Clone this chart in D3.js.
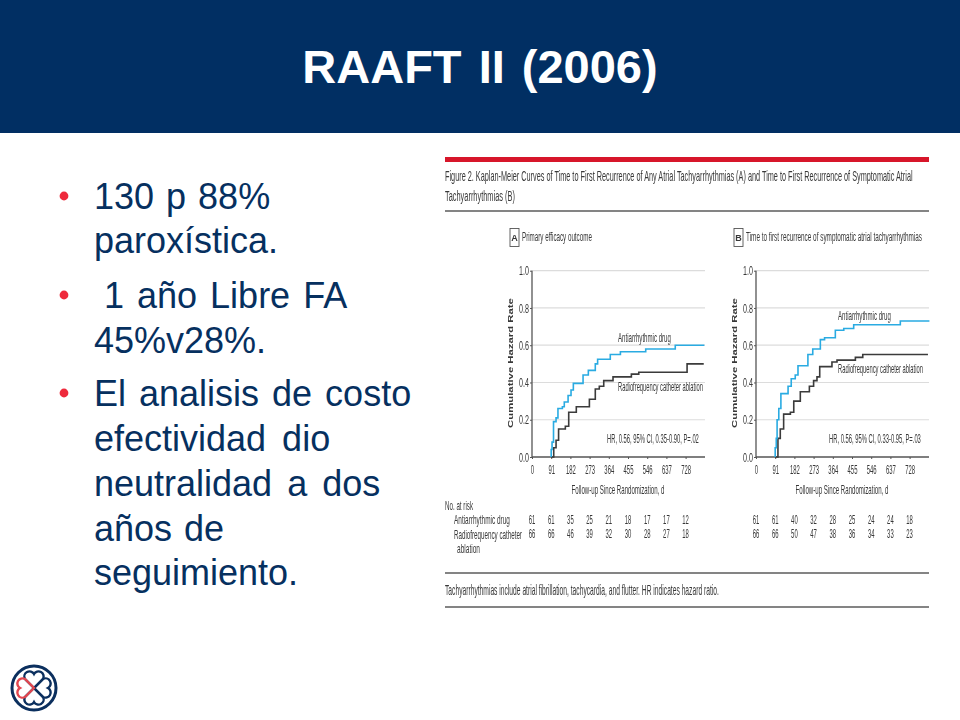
<!DOCTYPE html>
<html>
<head>
<meta charset="utf-8">
<script src="https://cdn.jsdelivr.net/npm/d3@7"></script>
<style>
    html, body { margin: 0; padding: 0; background: #fff; }
    svg { display: block; }
    .narrow { font-family: "Liberation Sans", sans-serif; fill: #383838; }
    .axis-line { stroke: #555; stroke-width: 1.3; fill: none; }
    .grid-line { stroke: #dcdcdc; stroke-width: 1.2; }
    .rule { stroke: #5c5c5c; stroke-width: 1.4; }
</style>
</head>
<body>
<svg id="slide" width="960" height="720"></svg>
<script>
// Slide text
const titleText = "RAAFT II (2006)";
const bulletLines = [
    { text: "130 p 88%", bullet: true, gap: 2 },
    { text: "paroxística." },
    { text: "1 año Libre FA", bullet: true, indent: true, gap: 3 },
    { text: "45%v28%." },
    { text: "El analisis de costo", bullet: true, gap: 3 },
    { text: "efectividad dio", gap: 6 },
    { text: "neutralidad a dos", gap: 5 },
    { text: "años de", gap: 2 },
    { text: "seguimiento." }
];

// Axis values
const xTicks = [0, 91, 182, 273, 364, 455, 546, 637, 728];
const yTicks = [0, 0.2, 0.4, 0.6, 0.8, 1.0];

// Panel A curves as [day, cumulative hazard]
const drugA = [[91, 0], [91, 0.04], [95, 0.08], [102, 0.19], [114, 0.21], [123, 0.26], [144, 0.27], [153, 0.295],
    [171, 0.33], [185, 0.36], [196, 0.395], [242, 0.44], [267, 0.465], [300, 0.5], [311, 0.525], [371, 0.55],
    [419, 0.565], [539, 0.58], [679, 0.6], [817, 0.6]];
const ablationA = [[91, 0], [103, 0.05], [114, 0.09], [126, 0.15], [158, 0.165], [174, 0.24], [210, 0.27],
    [272, 0.31], [300, 0.365], [319, 0.38], [340, 0.41], [384, 0.43], [471, 0.445], [506, 0.455], [735, 0.5], [814, 0.5]];

// Panel B curves
const drugB = [[91, 0], [91, 0.05], [96, 0.1], [100, 0.2], [108, 0.26], [118, 0.34], [152, 0.38], [167, 0.42], [186, 0.44],
    [199, 0.49], [246, 0.55], [269, 0.58], [305, 0.63], [325, 0.64], [376, 0.68], [416, 0.69], [463, 0.71],
    [684, 0.73], [822, 0.73]];
const ablationB = [[91, 0], [104, 0.1], [115, 0.15], [131, 0.23], [163, 0.24], [179, 0.3], [210, 0.35], [253, 0.38],
    [273, 0.41], [289, 0.43], [302, 0.485], [360, 0.51], [384, 0.52], [471, 0.535], [506, 0.55], [815, 0.55]];

// Numbers at risk
const riskDrugA = [61, 61, 35, 25, 21, 18, 17, 17, 12];
const riskAblationA = [66, 66, 46, 39, 32, 30, 28, 27, 18];
const riskDrugB = [61, 61, 40, 32, 28, 25, 24, 24, 18];
const riskAblationB = [66, 66, 50, 47, 38, 36, 34, 33, 23];

const svg = d3.select("#slide");

// Squeeze a text horizontally to a measured width, about its own x
function squeeze(node, width) {
    const sx = width / node.getComputedTextLength();
    const px = +node.getAttribute("x") || 0;
    node.setAttribute("transform", `translate(${px},0) scale(${sx},1) translate(${-px},0)`);
}

function narrowText(parent, x, y, str, size, width, anchor) {
    const t = parent.append("text")
        .attr("class", "narrow")
        .attr("x", x)
        .attr("y", y)
        .attr("font-size", size)
        .attr("text-anchor", anchor || "start")
        .text(str);
    if (width) {
        squeeze(t.node(), width);
    }
    return t;
}

function drawHeader() {
    svg.append("rect").attr("width", 960).attr("height", 133).attr("fill", "#012f63");
    svg.append("text")
        .attr("x", 480)
        .attr("y", 83)
        .attr("text-anchor", "middle")
        .attr("font-family", "'Liberation Sans', Arial, sans-serif")
        .attr("font-weight", "bold")
        .attr("font-size", 47)
        .attr("word-spacing", 4)
        .attr("fill", "#fff")
        .text(titleText);
}

function drawBullets() {
    const baselines = [209, 253, 308, 353, 406, 451, 496, 541, 585];
    const g = svg.append("g")
        .attr("font-family", "'Liberation Sans', Arial, sans-serif")
        .attr("font-size", 36)
        .attr("fill", "#06305f");

    bulletLines.forEach((line, i) => {
        g.append("text")
            .attr("x", line.indent ? 104 : 94)
            .attr("y", baselines[i])
            .attr("word-spacing", line.gap || 0)
            .text(line.text);
        if (line.bullet) {
            g.append("circle")
                .attr("cx", 64)
                .attr("cy", baselines[i] - 13)
                .attr("r", 4.4)
                .attr("fill", "#ee2a3c");
        }
    });
}

function drawPanel(fig, opts) {
    const x = d3.scaleLinear().domain([0, 728]).range([opts.x0, opts.x0 + 153.6]);
    const y = d3.scaleLinear().domain([0, 1]).range([457, 270.7]);
    const xEnd = opts.x0 + 173;
    const g = fig.append("g");

    // Horizontal grid
    g.selectAll(".grid-line")
        .data(yTicks.filter(d => d > 0))
        .enter().append("line")
        .attr("class", "grid-line")
        .attr("x1", x(0))
        .attr("x2", xEnd)
        .attr("y1", d => y(d))
        .attr("y2", d => y(d));

    // Axes
    const yAxis = g.append("g")
        .attr("transform", `translate(${x(0)},0)`)
        .call(d3.axisLeft(y).tickValues(yTicks).tickFormat(d3.format(".1f")).tickSize(2).tickPadding(1));
    const xAxis = g.append("g")
        .attr("transform", "translate(0,457)")
        .call(d3.axisBottom(x).tickValues(xTicks).tickFormat(d3.format("d")).tickSize(2).tickPadding(6));
    [yAxis, xAxis].forEach(a => {
        a.select(".domain").remove();
        a.selectAll("line").attr("stroke", "#555");
        a.selectAll("text")
            .attr("class", "narrow")
            .attr("font-size", 13)
            .each(function() { squeeze(this, this.textContent.length * 3.3); });
    });
    g.append("line").attr("class", "axis-line")
        .attr("x1", x(0)).attr("x2", x(0)).attr("y1", y(1)).attr("y2", y(0));
    g.append("line").attr("class", "axis-line")
        .attr("x1", x(0)).attr("x2", xEnd).attr("y1", y(0)).attr("y2", y(0));

    // Curves
    const line = d3.line().x(d => x(d[0])).y(d => y(d[1])).curve(d3.curveStepAfter);
    g.append("path").datum(opts.ablation)
        .attr("d", line).attr("fill", "none").attr("stroke", "#3a3a3a").attr("stroke-width", 1.6);
    g.append("path").datum(opts.drug)
        .attr("d", line).attr("fill", "none").attr("stroke", "#29abe2").attr("stroke-width", 1.6);

    // Y title
    const yTitle = g.append("text")
        .attr("class", "narrow")
        .attr("text-anchor", "middle")
        .attr("font-weight", "bold")
        .attr("font-size", 8)
        .text("Cumulative Hazard Rate");
    const yScale = 130 / yTitle.node().getComputedTextLength();
    yTitle.attr("transform", `translate(${opts.x0 - 19},363) rotate(-90) scale(${yScale},1)`);

    narrowText(g, opts.x0 + 86, 494, "Follow-up Since Randomization, d", 13, 93, "middle");
    narrowText(g, opts.drugLabel[0], opts.drugLabel[1], "Antiarrhythmic drug", 13, 53);
    narrowText(g, opts.ablationLabel[0], opts.ablationLabel[1], "Radiofrequency catheter ablation", 13, 85);
    narrowText(g, opts.hrLabel[0], opts.hrLabel[1], opts.hr, 13, 92);

    // Panel key
    g.append("rect")
        .attr("x", opts.x0 - 22).attr("y", 228.5)
        .attr("width", 9).attr("height", 18)
        .attr("fill", "#fff").attr("stroke", "#555").attr("stroke-width", 0.9);
    narrowText(g, opts.x0 - 17.5, 241, opts.key, 9, null, "middle").attr("font-weight", "bold");
    narrowText(g, opts.x0 - 10, 241, opts.subtitle, 12, opts.subtitleWidth);

    // Numbers at risk
    [[opts.riskDrug, 524], [opts.riskAblation, 538]].forEach(([row, rowY]) => {
        g.selectAll(null)
            .data(row)
            .enter().append("text")
            .attr("class", "narrow")
            .attr("x", (d, i) => x(xTicks[i]))
            .attr("y", rowY)
            .attr("text-anchor", "middle")
            .attr("font-size", 13)
            .text(d => d)
            .each(function() { squeeze(this, 6.6); });
    });
}

function drawFigure() {
    // Soft filter, the reference figure is a scaled-up bitmap
    svg.append("defs").append("filter")
        .attr("id", "soft")
        .append("feGaussianBlur")
        .attr("stdDeviation", 0.35);
    const fig = svg.append("g").attr("filter", "url(#soft)");

    fig.append("rect").attr("x", 445).attr("y", 157).attr("width", 484).attr("height", 5).attr("fill", "#d7182a");
    narrowText(fig, 445, 181, "Figure 2. Kaplan-Meier Curves of Time to First Recurrence of Any Atrial Tachyarrhythmias (A) and Time to First Recurrence of Symptomatic Atrial", 14, 468);
    narrowText(fig, 445, 201, "Tachyarrhythmias (B)", 14, 70);
    fig.append("line").attr("class", "rule").attr("x1", 445).attr("x2", 929).attr("y1", 211).attr("y2", 211);

    drawPanel(fig, {
        x0: 532, key: "A", subtitle: "Primary efficacy outcome", subtitleWidth: 70,
        drug: drugA, ablation: ablationA, riskDrug: riskDrugA, riskAblation: riskAblationA,
        hr: "HR, 0.56, 95% CI, 0.35-0.90, P=.02",
        drugLabel: [618, 342], ablationLabel: [618, 391], hrLabel: [607, 443]
    });
    drawPanel(fig, {
        x0: 756, key: "B", subtitle: "Time to first recurrence of symptomatic atrial tachyarrhythmias", subtitleWidth: 176,
        drug: drugB, ablation: ablationB, riskDrug: riskDrugB, riskAblation: riskAblationB,
        hr: "HR, 0.56, 95% CI, 0.33-0.95, P=.03",
        drugLabel: [838, 320], ablationLabel: [838, 373], hrLabel: [829, 443]
    });

    narrowText(fig, 445, 510, "No. at risk", 13, 28);
    narrowText(fig, 454, 524, "Antiarrhythmic drug", 13, 56);
    narrowText(fig, 454, 539, "Radiofrequency catheter", 13, 68);
    narrowText(fig, 457, 553, "ablation", 13, 23);

    fig.append("line").attr("class", "rule").attr("x1", 445).attr("x2", 929).attr("y1", 573).attr("y2", 573);
    narrowText(fig, 445, 595, "Tachyarrhythmias include atrial fibrillation, tachycardia, and flutter. HR indicates hazard ratio.", 14, 274);
    fig.append("line").attr("class", "rule").attr("x1", 445).attr("x2", 929).attr("y1", 607).attr("y2", 607);
}

function drawLogo() {
    const g = svg.append("g").attr("transform", "translate(34,688)");
    g.append("circle").attr("r", 22).attr("fill", "#fff").attr("stroke", "#0b2f5e").attr("stroke-width", 3);
    // Four hearts with their tips at the centre
    const heart = "M0,0 L-9,-9 A4.6,4.6 0 0,1 0,-14 A4.6,4.6 0 0,1 9,-9 Z";
    [[0, "#0b2f5e"], [90, "#0b2f5e"], [180, "#0b2f5e"], [270, "#e2474f"]].forEach(([angle, color]) => {
        g.append("path")
            .attr("d", heart)
            .attr("transform", `rotate(${angle})`)
            .attr("fill", "none")
            .attr("stroke", color)
            .attr("stroke-width", 2.4);
    });
}

drawHeader();
drawBullets();
drawFigure();
drawLogo();
</script>
</body>
</html>
